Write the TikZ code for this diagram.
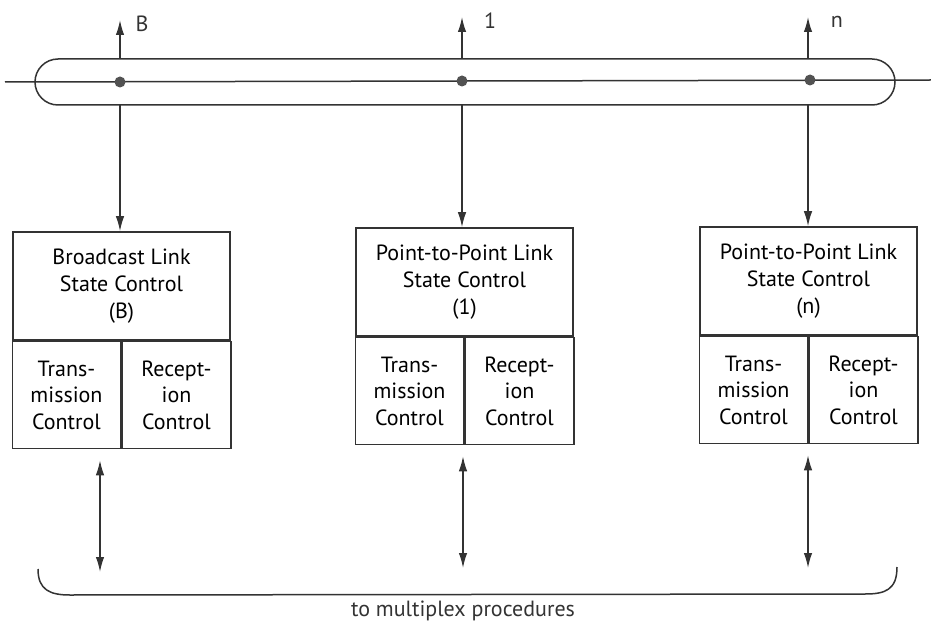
\documentclass[tikz,border=0pt]{standalone}
\usepackage{fontspec}
\setmainfont{PT Sans}
\usetikzlibrary{arrows.meta}
\definecolor{ink}{HTML}{333333}
\tikzset{
  line/.style={draw=ink, line width=1.5pt},
  arr/.style={line, -{Latex[length=15pt,width=8.5pt]}},
  darr/.style={line, {Latex[length=15pt,width=8.5pt]}-{Latex[length=15pt,width=8.5pt]}},
  dot/.style={circle, fill=ink!85, inner sep=0pt, minimum size=11pt},
  topbox/.style={line, rectangle, minimum width=217pt, minimum height=108pt, align=center, inner sep=0pt, font=\fontsize{22}{27}\selectfont},
  subbox/.style={line, rectangle, minimum width=108.5pt, minimum height=107pt, align=center, inner sep=0pt, font=\fontsize{22}{26.5}\selectfont},
  lab/.style={font=\fontsize{22}{24}\selectfont, text=ink}
}
\begin{document}
\begin{tikzpicture}[x=1pt,y=-1pt]
\useasboundingbox (0,0) rectangle (931,628);
% bus
\draw[line, rounded corners=23pt] (35,59) rectangle (895,105);
\coordinate (busL) at (5,82);
\coordinate (busR) at (931,80);
\draw[line] (busL) -- (busR);
\node[dot] (dB) at (120,82) {};
\node[dot] (d1) at (462,81) {};
\node[dot] (dn) at (810,80) {};
% up arrows
\coordinate (uB0) at (120,59); \coordinate (uB1) at (120,20);
\coordinate (u10) at (462,59); \coordinate (u11) at (462,17);
\coordinate (un0) at (808,59); \coordinate (un1) at (808,17);
\draw[arr] (uB0) -- (uB1);
\draw[arr] (u10) -- (u11);
\draw[arr] (un0) -- (un1);
\node[lab] (lB) at (142,24) {B};
\node[lab] (l1) at (490,21) {1};
\node[lab] (ln) at (837,22) {n};
% boxes
\node[topbox] (tB) at (121.5,286) {Broadcast Link\\State Control\\(B)};
\node[subbox, anchor=north east] (xB) at (tB.south) {Trans-\\mission\\Control};
\node[subbox, anchor=north west] (rB) at (tB.south) {Recept-\\ion\\Control};

\node[topbox] (t1) at (464.5,282) {Point-to-Point Link\\State Control\\(1)};
\node[subbox, anchor=north east] (x1) at (t1.south) {Trans-\\mission\\Control};
\node[subbox, anchor=north west] (r1) at (t1.south) {Recept-\\ion\\Control};

\node[topbox] (tn) at (808.5,281) {Point-to-Point Link\\State Control\\(n)};
\node[subbox, anchor=north east] (xn) at (tn.south) {Trans-\\mission\\Control};
\node[subbox, anchor=north west] (rn) at (tn.south) {Recept-\\ion\\Control};
% down arrows
\coordinate (aB) at (120,105); \coordinate (a1) at (462,105); \coordinate (an) at (808,105);
\draw[arr] (aB) -- (aB |- tB.north);
\draw[arr] (a1) -- (a1 |- t1.north);
\draw[arr] (an) -- (an |- tn.north);
% double arrows
\coordinate (bB) at (100,572); \coordinate (b1) at (463,568); \coordinate (bn) at (808,568);
\draw[darr] (bB |- xB.south) ++(0,11) -- (bB);
\draw[darr] (b1 |- x1.south) ++(0,11) -- (b1);
\draw[darr] (bn |- xn.south) ++(0,11) -- (bn);
% brace
\coordinate (brL) at (38,569);
\coordinate (brR) at (897,567);
\draw[line] (brL) .. controls (38,590) and (50,595) .. (70,595) -- (865,594) .. controls (885,594) and (897,590) .. (brR);
\node[lab, font=\fontsize{22}{24}\selectfont] (mux) at (463,611) {to multiplex procedures};
\end{tikzpicture}
\end{document}
